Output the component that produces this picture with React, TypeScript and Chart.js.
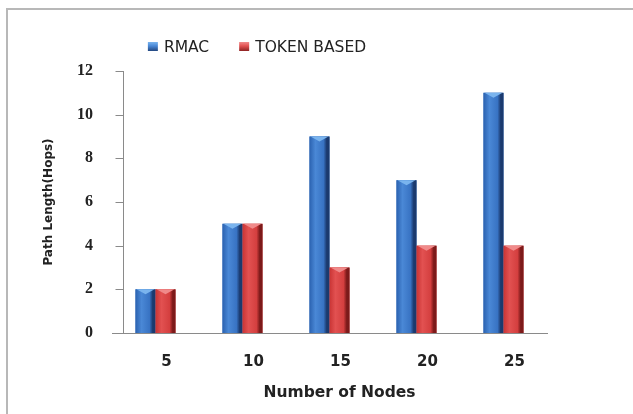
import React, { useEffect, useRef } from "react";
import { Chart, registerables } from "chart.js";

Chart.register(...registerables);

const categories = ["5", "10", "15", "20", "25"];
const rmacValues = [2, 5, 9, 7, 11];
const tokenValues = [2, 5, 3, 4, 4];
const seriesNames = ["RMAC", "TOKEN BASED"];
const xTitle = "Number of Nodes";
const yTitle = "Path Length(Hops)";

const palettes = [
  { base: "#3570c0", left: "#2b62b0", light: "#4a88d6", mid: "#3873c3", dark: "#1b3a6e", cap: "#7ab4ee" },
  { base: "#d23c3c", left: "#c93434", light: "#e25151", mid: "#d43f3f", dark: "#7c1a1a", cap: "#f08a8a" },
];

const AXIS_COLOR = "#8a8a8a";
const Y_AXIS_INSET = 11;

const barStylePlugin = {
  id: "barStyle",
  afterDatasetsDraw(chart: any) {
    const ctx = chart.ctx;
    chart.data.datasets.forEach((ds: any, di: number) => {
      const meta = chart.getDatasetMeta(di);
      const p = palettes[di];
      meta.data.forEach((el: any) => {
        const { x, y, base, width } = el.getProps(["x", "y", "base", "width"], true);
        const l = x - width / 2;
        const r = x + width / 2;
        const g = ctx.createLinearGradient(l, 0, r, 0);
        g.addColorStop(0, p.left);
        g.addColorStop(0.3, p.light);
        g.addColorStop(0.7, p.mid);
        g.addColorStop(0.86, p.dark);
        g.addColorStop(1, p.dark);
        ctx.save();
        ctx.fillStyle = g;
        ctx.fillRect(l, y, width, base - y);
        ctx.fillStyle = p.cap;
        ctx.beginPath();
        ctx.moveTo(l + 1, y);
        ctx.lineTo(r - 1, y);
        ctx.lineTo(x, y + 5);
        ctx.closePath();
        ctx.fill();
        ctx.restore();
      });
    });
  },
};

const axisPlugin = {
  id: "axisExtras",
  afterDraw(chart: any) {
    const ctx = chart.ctx;
    const ys = chart.scales.y;
    const ca = chart.chartArea;
    const ax = Math.round(ca.left + Y_AXIS_INSET) + 0.5;
    ctx.save();
    ctx.strokeStyle = AXIS_COLOR;
    ctx.lineWidth = 1;
    ctx.beginPath();
    ctx.moveTo(ax, ys.getPixelForValue(ys.max));
    ctx.lineTo(ax, ys.getPixelForValue(ys.min));
    ys.ticks.forEach((t: any) => {
      const py = Math.round(ys.getPixelForValue(t.value)) + 0.5;
      ctx.moveTo(ax - 8, py);
      ctx.lineTo(ax, py);
    });
    ctx.stroke();
    ctx.fillStyle = "#222";
    ctx.font = "bold 15.5px 'DejaVu Sans'";
    ctx.textAlign = "center";
    ctx.textBaseline = "middle";
    ctx.fillText(xTitle, (ca.left + ca.right) / 2 + 10, 393);
    ctx.restore();
  },
};

const legendPlugin = {
  id: "customLegend",
  afterDraw(chart: any) {
    const ctx = chart.ctx;
    ctx.save();
    ctx.font = "15.5px 'DejaVu Sans'";
    ctx.textBaseline = "middle";
    const gap = 30;
    const box = 10;
    const items = chart.data.datasets.map((d: any) => d.label);
    const widths = items.map((t: string) => box + 6 + ctx.measureText(t).width);
    const total = widths.reduce((a: number, b: number) => a + b, 0) + gap * (items.length - 1);
    let xx = 257 - total / 2;
    const yy = 47;
    items.forEach((t: string, i: number) => {
      const p = palettes[i];
      const g = ctx.createLinearGradient(0, yy - box / 2, 0, yy + box / 2);
      g.addColorStop(0, p.cap);
      g.addColorStop(0.4, p.light);
      g.addColorStop(1, p.dark);
      ctx.fillStyle = g;
      ctx.fillRect(xx, yy - box / 2, box, box - 1);
      ctx.fillStyle = "#222";
      ctx.fillText(t, xx + box + 6, yy + 1);
      xx += widths[i] + gap;
    });
    ctx.restore();
  },
};

export default function App() {
  const ref = useRef<HTMLCanvasElement>(null);
  useEffect(() => {
    const chart = new Chart(ref.current as HTMLCanvasElement, {
      type: "bar",
      data: {
        labels: categories,
        datasets: [
          { label: seriesNames[0], data: rmacValues, backgroundColor: palettes[0].base, borderWidth: 0 },
          { label: seriesNames[1], data: tokenValues, backgroundColor: palettes[1].base, borderWidth: 0 },
        ],
      },
      options: {
        animation: false,
        responsive: false,
        layout: { padding: { top: 71, left: 0, right: 86, bottom: 0 } },
        plugins: { legend: { display: false }, tooltip: { enabled: false } },
        datasets: { bar: { categoryPercentage: 0.46, barPercentage: 1 } },
        scales: {
          x: {
            grid: { display: false, drawTicks: false },
            border: { color: AXIS_COLOR, width: 1 },
            ticks: { padding: 20, labelOffset: 11, color: "#222", font: { family: "'DejaVu Sans'", size: 15, weight: "bold" } },
            title: { display: false },
            afterFit: (s: any) => { s.height = 81; },
          },
          y: {
            min: 0,
            max: 12,
            ticks: { stepSize: 2, padding: 19, color: "#222", font: { family: "'Liberation Serif'", size: 16, weight: "bold" } },
            grid: { display: false, drawTicks: false },
            border: { display: false },
            title: {
              display: true,
              text: yTitle,
              color: "#222",
              padding: { top: 42, bottom: 42 },
              font: { family: "'DejaVu Sans'", size: 12, weight: "bold" },
            },
            afterFit: (s: any) => { s.width = 112; },
          },
        },
      },
      plugins: [barStylePlugin, axisPlugin, legendPlugin],
    });
    return () => chart.destroy();
  }, []);
  return (
    <div style={{ position: "fixed", left: 0, top: 0, width: 633, height: 414, background: "#fff" }}>
      <div style={{ position: "absolute", left: 6, top: 8, right: 0, bottom: 0, borderTop: "2px solid #b8b8b8", borderLeft: "2px solid #b8b8b8" }} />
      <canvas ref={ref} width={633} height={414} style={{ position: "absolute", left: 0, top: 0, width: 633, height: 414 }} />
    </div>
  );
}
